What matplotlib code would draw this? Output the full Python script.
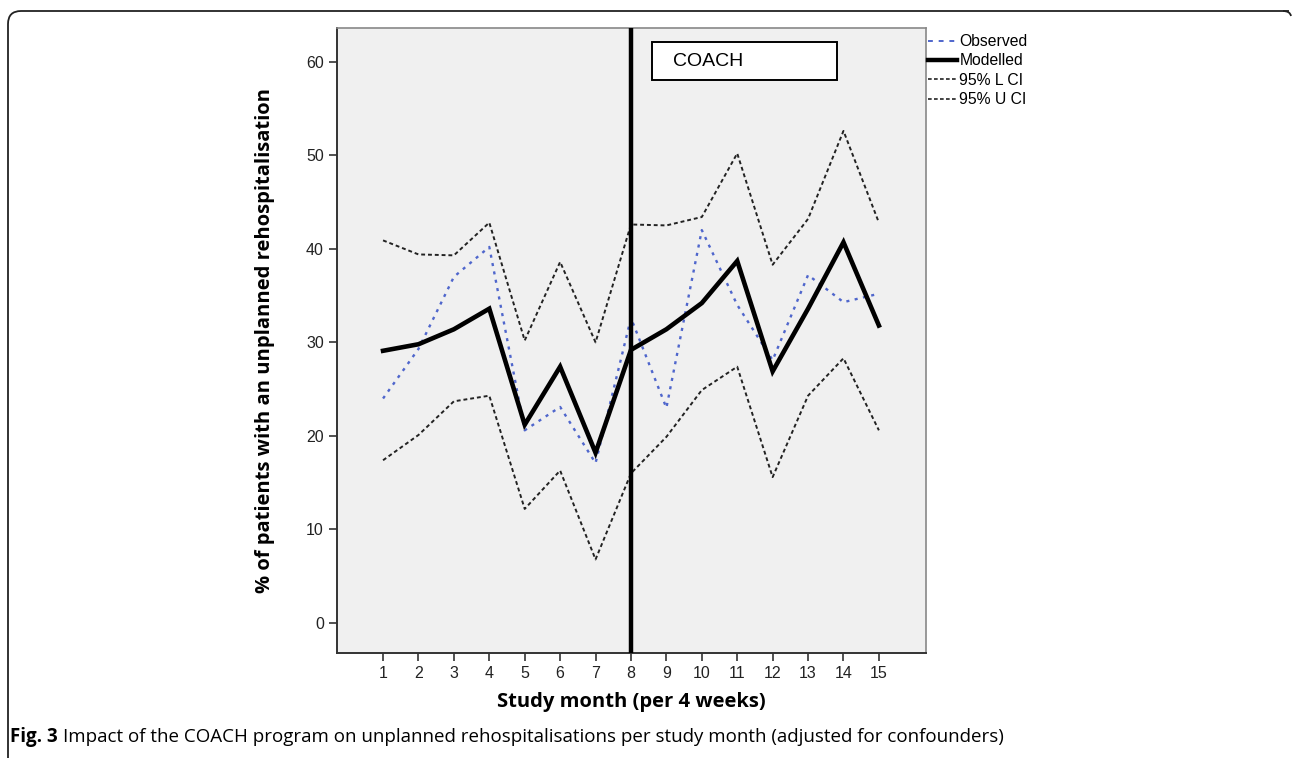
import matplotlib
matplotlib.use("Agg")
import matplotlib.pyplot as plt
from matplotlib.lines import Line2D
from matplotlib.patches import Rectangle, PathPatch
from matplotlib.path import Path

months = list(range(1, 16))
observed = [24.0, 29.3, 37.0, 40.2, 20.6, 23.1, 17.1, 32.6, 23.0, 42.0, 34.0, 28.1, 37.2, 34.3, 35.2]
modelled = [29.1, 29.8, 31.4, 33.6, 21.2, 27.4, 18.2, 29.2, 31.4, 34.2, 38.7, 26.9, 33.6, 40.7, 31.8]
lower_ci = [17.4, 20.1, 23.7, 24.3, 12.2, 16.3, 6.8, 16.0, 19.9, 24.9, 27.4, 15.6, 24.3, 28.3, 20.6]
upper_ci = [40.9, 39.4, 39.3, 42.8, 30.2, 38.6, 30.0, 42.6, 42.5, 43.4, 50.2, 38.3, 43.2, 52.6, 42.8]
yticks = [0, 10, 20, 30, 40, 50, 60]
intervention_month = 8
legend_labels = ["Observed", "Modelled", "95% L CI", "95% U CI"]

W, H = 1292, 758
fig = plt.figure(figsize=(W / 100, H / 100), dpi=100)

ax = fig.add_axes([337 / W, 1 - 653 / H, (926 - 337) / W, (653 - 28) / H])
ax.set_facecolor("#f0f0f0")
ax.set_xlim(-0.3, 16.33)
ax.set_ylim(-3.2, 63.6)

obs_color = "#4f66cc"
ax.plot(months, observed, color=obs_color, lw=1.7, ls=(0, (1.3, 2.3)), zorder=3)
ax.plot(months, modelled, color="black", lw=3.3, zorder=4, solid_joinstyle="miter")
ax.plot(months, lower_ci, color="#222222", lw=1.4, ls=(0, (2.0, 1.5)), zorder=3)
ax.plot(months, upper_ci, color="#222222", lw=1.4, ls=(0, (2.0, 1.5)), zorder=3)
ax.axvline(intervention_month, color="black", lw=3.2, zorder=5)

ax.set_xticks(months)
ax.set_xticklabels([str(m) for m in months])
ax.set_yticks(yticks)
ax.tick_params(axis="both", direction="out", length=6, width=1.2, color="#333333",
               labelsize=11.5, labelcolor="#222222")
for lab in ax.get_xticklabels() + ax.get_yticklabels():
    lab.set_family("Liberation Sans")
for s in ["top", "right"]:
    ax.spines[s].set_color("#888888")
    ax.spines[s].set_linewidth(1.2)
for s in ["left", "bottom"]:
    ax.spines[s].set_color("#333333")
    ax.spines[s].set_linewidth(1.4)

ax.set_xlabel("Study month (per 4 weeks)", fontsize=14.5, fontweight="bold",
              family="Open Sans", labelpad=8)
ax.set_ylabel("% of patients with an unplanned rehospitalisation", fontsize=14.5,
              fontweight="bold", family="Open Sans", labelpad=22)

# COACH box
ax.add_patch(Rectangle(((652 - 337) / 589, 1 - (80 - 28) / 625), (837 - 652) / 589, (80 - 42) / 625,
                       transform=ax.transAxes, facecolor="white", edgecolor="black", lw=1.4, zorder=6))
ax.text((673 - 337) / 589, 1 - (62 - 28) / 625, "COACH", transform=ax.transAxes,
        fontsize=14, family="Liberation Sans", va="center", ha="left", zorder=7)

# legend
handles = [
    Line2D([], [], color=obs_color, lw=1.4, ls=(0, (2.5, 3))),
    Line2D([], [], color="black", lw=3.2),
    Line2D([], [], color="#222222", lw=1.2, ls=(0, (2.2, 1.4))),
    Line2D([], [], color="#222222", lw=1.2, ls=(0, (2.2, 1.4))),
]
fig.legend(handles, legend_labels,
           loc="upper left", bbox_to_anchor=(928 / W, 1 - 34 / H),
           frameon=False, handlelength=1.85, handletextpad=0.15,
           labelspacing=0.28, borderaxespad=0, borderpad=0,
           prop={"family": "Liberation Sans", "size": 11.3})


def fx(x):
    return x / W


def fy(y):
    return 1 - y / H


# outer frame (top and left with rounded corner)
r = 13
verts = [(fx(1289), fy(11)), (fx(8 + r), fy(11)), (fx(8), fy(11)), (fx(8), fy(11 + r)), (fx(8), fy(760))]
codes = [Path.MOVETO, Path.LINETO, Path.CURVE3, Path.CURVE3, Path.LINETO]
fig.add_artist(PathPatch(Path(verts, codes), transform=fig.transFigure, fill=False,
                         edgecolor="#222222", lw=1.3))
verts2 = [(fx(1283), fy(11)), (fx(1290), fy(11)), (fx(1291), fy(16))]
fig.add_artist(PathPatch(Path(verts2, [Path.MOVETO, Path.CURVE3, Path.CURVE3]),
                         transform=fig.transFigure, fill=False, edgecolor="#222222", lw=1.3))

# caption
t1 = fig.text(10 / W, fy(737), "Fig. 3", fontsize=13.5, fontweight="bold",
              family="Open Sans", va="center", ha="left")
fig.add_artist(matplotlib.text.Annotation(
    "Impact of the COACH program on unplanned rehospitalisations per study month (adjusted for confounders)",
    xy=(1, 0.5), xycoords=t1, xytext=(4, 0), textcoords="offset points",
    fontsize=13.5, family="Open Sans", va="center", ha="left"))

fig.savefig("out.png", dpi=100)
